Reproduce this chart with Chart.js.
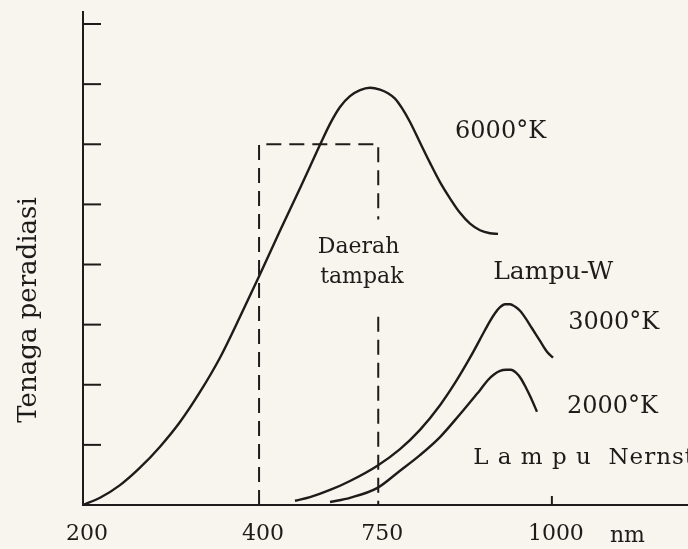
<!DOCTYPE html>
<html>
<head>
<meta charset="utf-8">
<script src="https://cdn.jsdelivr.net/npm/chart.js@4.4.1/dist/chart.umd.min.js"></script>
<style>
  html, body { margin: 0; padding: 0; background: #f7f5ee; }
  #wrap { width: 688px; height: 549px; }
</style>
</head>
<body>
<div id="wrap"><canvas id="chart" width="688" height="549"></canvas></div>
<script>
// x is a schematic position (0..100 along the axis), the figure is not linear in nm
const xTickPos = [0, 29.1, 48.8, 77.5];
const xTickLabels = ['200', '400', '750', '1000'];
const yTickPos = [1, 2, 3, 4, 5, 6, 7, 8];

// 6000 K curve
const k6000X = [0, 2.81, 6.12, 9.42, 12.73, 16.03, 19.34, 22.64, 25.95, 29.26, 32.56, 35.87, 39.17, 40.83, 42.48,
  44.13, 45.79, 47.44, 49.09, 50.41, 51.57, 52.73, 54.05, 55.70, 57.36, 59.01, 60.66, 62.31, 63.97, 65.62, 67.27, 68.60];
const k6000Y = [0, 0.12, 0.33, 0.62, 0.97, 1.38, 1.88, 2.45, 3.13, 3.84, 4.56, 5.27, 5.99, 6.34, 6.62,
  6.80, 6.90, 6.94, 6.91, 6.85, 6.76, 6.60, 6.37, 6.03, 5.69, 5.37, 5.10, 4.86, 4.68, 4.57, 4.52, 4.51];

// Lampu-W 3000 K
const k3000X = [35.04, 37.52, 40.83, 44.13, 48.60, 52.40, 55.70, 59.01, 61.49, 63.97, 66.45, 67.27, 68.10,
  68.93, 69.75, 70.58, 71.40, 72.23, 73.06, 74.21, 75.54, 76.69, 77.69];
const k3000Y = [0.07, 0.13, 0.25, 0.40, 0.65, 0.93, 1.25, 1.66, 2.03, 2.45, 2.91, 3.06, 3.19,
  3.29, 3.34, 3.34, 3.30, 3.23, 3.12, 2.94, 2.73, 2.55, 2.45];

// Lampu Nernst 2000 K
const k2000X = [40.83, 44.13, 48.60, 52.40, 55.70, 59.01, 62.31, 64.79, 65.62, 66.94, 67.93, 68.93, 69.92,
  70.74, 71.57, 72.40, 73.22, 74.05, 75.04];
const k2000Y = [0.05, 0.12, 0.28, 0.57, 0.83, 1.13, 1.51, 1.81, 1.91, 2.08, 2.17, 2.23, 2.25,
  2.25, 2.20, 2.10, 1.95, 1.78, 1.55];

// visible region box (400 - 750), right side broken where the label sits
const boxX = [29.1, 29.1, 48.8, 48.8, 48.8, 48.8, 48.8];
const boxY = [0, 6.0, 6.0, 4.75, null, 3.13, 0];

const toPoints = (xs, ys) => xs.map((x, i) => ({ x: x, y: ys[i] }));

const ink = '#1e1c1a';
const serif = '"DejaVu Serif", "Liberation Serif", serif';

function curve(xs, ys) {
  return {
    data: toPoints(xs, ys),
    borderColor: ink,
    borderWidth: 2.4,
    pointRadius: 0,
    fill: false,
    cubicInterpolationMode: 'monotone'
  };
}

// text labels, placed in axis units
const notes = [
  { text: '6000°K', x: 61.5, y: 6.2, size: 24 },
  { text: 'Daerah', x: 38.8, y: 4.28, size: 22 },
  { text: 'tampak', x: 39.2, y: 3.78, size: 22 },
  { text: 'Lampu-W', x: 67.8, y: 3.86, size: 25 },
  { text: '3000°K', x: 80.2, y: 3.03, size: 24 },
  { text: '2000°K', x: 80.0, y: 1.63, size: 24 },
  { text: 'L a m p u  Nernst', x: 64.5, y: 0.78, size: 23, spacing: '1px' }
];

const decor = {
  id: 'decor',
  afterDraw(chart) {
    const { ctx, chartArea, scales: { x, y } } = chart;
    ctx.save();
    ctx.strokeStyle = ink;
    ctx.lineWidth = 2;

    // inward ticks on the y axis
    yTickPos.forEach(v => {
      const py = y.getPixelForValue(v);
      ctx.beginPath();
      ctx.moveTo(chartArea.left, py);
      ctx.lineTo(chartArea.left + 18, py);
      ctx.stroke();
    });

    // small tick at 1000
    const p1000 = x.getPixelForValue(xTickPos[3]);
    ctx.beginPath();
    ctx.moveTo(p1000, chartArea.bottom);
    ctx.lineTo(p1000, chartArea.bottom - 9);
    ctx.stroke();

    ctx.fillStyle = ink;
    ctx.textBaseline = 'middle';

    // unit after 1000
    ctx.font = '22px ' + serif;
    ctx.textAlign = 'left';
    ctx.fillText('nm', p1000 + 58, chartArea.bottom + 31);

    // y axis title
    ctx.save();
    ctx.translate(29, 310);
    ctx.rotate(-Math.PI / 2);
    ctx.textAlign = 'center';
    ctx.font = '26px ' + serif;
    ctx.fillText('Tenaga peradiasi', 0, 0);
    ctx.restore();

    notes.forEach(n => {
      ctx.font = n.size + 'px ' + serif;
      ctx.letterSpacing = n.spacing || '0px';
      ctx.fillText(n.text, x.getPixelForValue(n.x), y.getPixelForValue(n.y));
    });
    ctx.letterSpacing = '0px';
    ctx.restore();
  }
};

new Chart(document.getElementById('chart'), {
  type: 'line',
  data: {
    datasets: [
      curve(k6000X, k6000Y),
      curve(k3000X, k3000Y),
      curve(k2000X, k2000Y),
      {
        data: toPoints(boxX, boxY),
        borderColor: ink,
        borderWidth: 2,
        borderDash: [15, 8],
        pointRadius: 0,
        tension: 0,
        spanGaps: false,
        fill: false
      }
    ]
  },
  options: {
    responsive: false,
    animation: false,
    devicePixelRatio: 1,
    layout: { padding: { top: 12, right: 0, left: 0, bottom: 0 } },
    plugins: {
      legend: { display: false },
      tooltip: { enabled: false }
    },
    scales: {
      x: {
        type: 'linear',
        min: 0,
        max: 100,
        afterBuildTicks: axis => { axis.ticks = xTickPos.map(v => ({ value: v })); },
        afterFit: axis => { axis.height = 44; },
        ticks: {
          autoSkip: false,
          maxRotation: 0,
          padding: 16,
          labelOffset: 4,
          color: ink,
          font: { family: serif, size: 22 },
          callback: (v, i) => xTickLabels[i]
        },
        grid: { display: false, drawTicks: false },
        border: { display: true, color: ink, width: 2 }
      },
      y: {
        type: 'linear',
        min: 0,
        max: 8.2,
        afterBuildTicks: axis => { axis.ticks = yTickPos.map(v => ({ value: v })); },
        afterFit: axis => { axis.width = 83; },
        ticks: { display: false },
        grid: { display: false, drawTicks: false },
        border: { display: true, color: ink, width: 2 }
      }
    }
  },
  plugins: [decor]
});
</script>
</body>
</html>
